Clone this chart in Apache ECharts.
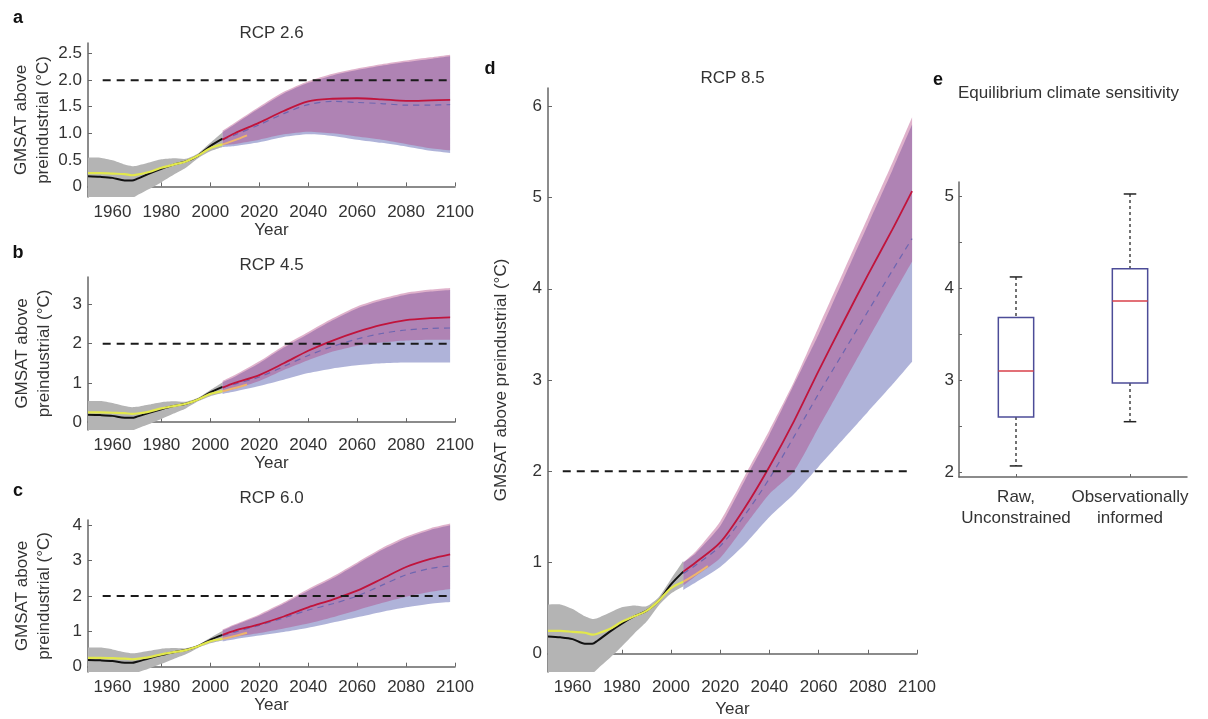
<!DOCTYPE html>
<html lang="en">
<head>
    <meta charset="UTF-8">
    <title>GMSAT projections</title>
    <style>
        html, body { margin: 0; padding: 0; background: #fff; }
    </style>
</head>
<body>
<div id="main" style="width: 1208px;height: 719px;"></div>
<script src="https://cdn.jsdelivr.net/npm/echarts@6/dist/echarts.min.js"></script>
<script>
    // historical model ensemble (same in every panel)
    const histYears = [1950, 1955, 1960, 1965, 1968, 1970, 1975, 1980, 1985, 1990, 1995, 2000, 2005];
    const histMean  = [0.19, 0.18, 0.16, 0.11, 0.11, 0.14, 0.24, 0.33, 0.41, 0.47, 0.58, 0.76, 0.90];
    const histLow   = [-0.35, -0.35, -0.33, -0.28, -0.22, -0.17, -0.05, 0.08, 0.22, 0.35, 0.53, 0.66, 0.74];
    const histHigh  = [0.54, 0.54, 0.49, 0.41, 0.38, 0.39, 0.45, 0.51, 0.53, 0.52, 0.62, 0.82, 1.02];

    // observations
    const obsYears = [1950, 1955, 1960, 1965, 1968, 1970, 1975, 1980, 1985, 1990, 1995, 2000, 2005, 2010, 2015];
    const obsVals  = [0.25, 0.25, 0.24, 0.23, 0.21, 0.22, 0.27, 0.35, 0.41, 0.47, 0.58, 0.72, 0.79, 0.87, 0.96];

    // projections
    const projYears = [2005, 2010, 2020, 2030, 2040, 2050, 2060, 2070, 2080, 2090, 2098];

    const rcp26 = {
        rawMean: [0.88, 0.97, 1.16, 1.37, 1.54, 1.60, 1.58, 1.56, 1.53, 1.53, 1.54],
        rawLow:  [0.74, 0.76, 0.83, 0.93, 0.98, 0.95, 0.88, 0.82, 0.75, 0.67, 0.63],
        rawHigh: [1.02, 1.17, 1.47, 1.75, 1.95, 2.09, 2.19, 2.27, 2.34, 2.40, 2.45],
        infMean: [0.88, 1.00, 1.20, 1.42, 1.60, 1.65, 1.66, 1.64, 1.61, 1.62, 1.63],
        infLow:  [0.78, 0.80, 0.88, 0.98, 1.03, 1.00, 0.94, 0.88, 0.80, 0.72, 0.68],
        infHigh: [1.05, 1.20, 1.50, 1.78, 1.98, 2.12, 2.22, 2.30, 2.37, 2.43, 2.48]
    };
    const rcp45 = {
        rawMean: [0.88, 0.97, 1.15, 1.42, 1.70, 1.93, 2.12, 2.26, 2.35, 2.39, 2.40],
        rawLow:  [0.72, 0.78, 0.92, 1.08, 1.25, 1.37, 1.45, 1.50, 1.52, 1.52, 1.52],
        rawHigh: [1.02, 1.16, 1.50, 1.90, 2.25, 2.60, 2.90, 3.10, 3.25, 3.33, 3.37],
        infMean: [0.88, 1.00, 1.20, 1.50, 1.82, 2.08, 2.30, 2.48, 2.60, 2.65, 2.67],
        infLow:  [0.78, 0.85, 1.05, 1.33, 1.58, 1.80, 1.95, 2.03, 2.08, 2.10, 2.10],
        infHigh: [1.05, 1.20, 1.55, 1.95, 2.30, 2.65, 2.95, 3.15, 3.30, 3.38, 3.42]
    };
    const rcp60 = {
        rawMean: [0.88, 0.98, 1.17, 1.38, 1.60, 1.78, 2.00, 2.30, 2.60, 2.78, 2.85],
        rawLow:  [0.72, 0.78, 0.88, 0.98, 1.10, 1.25, 1.40, 1.55, 1.68, 1.78, 1.83],
        rawHigh: [1.02, 1.17, 1.44, 1.78, 2.15, 2.50, 2.90, 3.30, 3.63, 3.87, 4.00],
        infMean: [0.90, 1.02, 1.20, 1.42, 1.68, 1.90, 2.15, 2.48, 2.82, 3.05, 3.18],
        infLow:  [0.78, 0.84, 0.95, 1.08, 1.22, 1.40, 1.60, 1.80, 1.98, 2.12, 2.20],
        infHigh: [1.05, 1.20, 1.48, 1.82, 2.20, 2.55, 2.95, 3.35, 3.68, 3.92, 4.05]
    };
    const rcp85 = {
        rawMean: [0.88, 0.97, 1.18, 1.52, 1.92, 2.38, 2.85, 3.30, 3.75, 4.20, 4.55],
        rawLow:  [0.70, 0.78, 0.95, 1.20, 1.50, 1.75, 2.05, 2.35, 2.65, 2.95, 3.20],
        rawHigh: [1.00, 1.10, 1.40, 1.90, 2.40, 2.95, 3.50, 4.10, 4.70, 5.30, 5.80],
        infMean: [0.90, 1.00, 1.22, 1.60, 2.05, 2.55, 3.10, 3.63, 4.15, 4.65, 5.07],
        infLow:  [0.75, 0.85, 1.05, 1.40, 1.75, 2.00, 2.48, 2.96, 3.44, 3.92, 4.30],
        infHigh: [1.00, 1.12, 1.45, 1.95, 2.45, 2.98, 3.58, 4.18, 4.78, 5.38, 5.88]
    };

    // 2 degree threshold
    const thresholdValue = 2;
    const thresholdSpan = [1956, 2098];

    // panel e: equilibrium climate sensitivity
    const ecsCategories = ['Raw,\nUnconstrained', 'Observationally\ninformed'];
    const ecsMin    = [2.07, 2.55];
    const ecsQ1     = [2.60, 2.97];
    const ecsMedian = [3.10, 3.86];
    const ecsQ3     = [3.68, 4.21];
    const ecsMax    = [4.12, 5.02];

    const yearTicks = [1960, 1980, 2000, 2020, 2040, 2060, 2080, 2100];

    const FONT = 'Liberation Sans, Arial, sans-serif';
    const TXT = '#333';
    const AXIS = '#666';

    var myChart = echarts.init(document.getElementById('main'));

    const panels = [
        {letter: 'a', title: 'RCP 2.6', data: rcp26, grid: {left: 88, top: 43, width: 367, height: 154},
            min: -0.2, max: 2.7, ticks: [0, 0.5, 1, 1.5, 2, 2.5], dec: true,
            name: 'GMSAT above\npreindustrial (°C)', nameGap: 33, letterPos: [18, 18], titleY: 33},
        {letter: 'b', title: 'RCP 4.5', data: rcp45, grid: {left: 88, top: 277, width: 367, height: 153},
            min: -0.2, max: 3.7, ticks: [0, 1, 2, 3],
            name: 'GMSAT above\npreindustrial (°C)', nameGap: 33, letterPos: [18, 253], titleY: 265},
        {letter: 'c', title: 'RCP 6.0', data: rcp60, grid: {left: 88, top: 520, width: 367, height: 152},
            min: -0.15, max: 4.15, ticks: [0, 1, 2, 3, 4],
            name: 'GMSAT above\npreindustrial (°C)', nameGap: 33, letterPos: [18, 491], titleY: 498},
        {letter: 'd', title: 'RCP 8.5', data: rcp85, grid: {left: 548, top: 88, width: 369, height: 584},
            min: -0.2, max: 6.2, ticks: [0, 1, 2, 3, 4, 5, 6],
            name: 'GMSAT above preindustrial (°C)', nameGap: 36, letterPos: [490, 69], titleY: 78}
    ];

    const pairs = (xs, ys) => xs.map((x, i) => [x, ys[i]]);

    // shaded spread between low and high, drawn as one polygon through the axis scales
    function band(idx, xs, low, high, color, opacity) {
        return {
            type: 'custom', xAxisIndex: idx, yAxisIndex: idx, silent: true, clip: true,
            encode: {x: 0, y: [1, 2]},
            data: xs.map((x, i) => [x, low[i], high[i]]),
            renderItem: function (params, api) {
                if (params.dataIndex !== 0) return null;
                const top = xs.map((x, i) => api.coord([x, high[i]]));
                const bot = xs.map((x, i) => api.coord([x, low[i]])).reverse();
                // doubled end points keep the vertical ends square when smoothing
                const pts = [top[0]].concat(top, [top[top.length - 1], bot[0]], bot, [bot[bot.length - 1]]);
                const cs = params.coordSys;
                return {
                    type: 'group',
                    clipPath: {type: 'rect', shape: {x: cs.x, y: cs.y, width: cs.width, height: cs.height}},
                    children: [{
                        type: 'polygon',
                        shape: {points: pts, smooth: 0.2},
                        style: {fill: color, opacity: opacity}
                    }]
                };
            }
        };
    }

    function line(idx, data, color, width, type) {
        return {
            type: 'line', xAxisIndex: idx, yAxisIndex: idx, symbol: 'none', smooth: 0.3, silent: true,
            data: data, lineStyle: {color: color, width: width, type: type || 'solid'}
        };
    }

    const grids = [], xAxes = [], yAxes = [], series = [], graphics = [];

    panels.forEach((p, i) => {
        grids.push(Object.assign({outerBoundsMode: 'none', containLabel: false}, p.grid));
        xAxes.push({
            type: 'value', gridIndex: i, min: 1950, max: 2100,
            name: 'Year', nameLocation: 'middle', nameGap: 24,
            nameTextStyle: {fontSize: 17, color: TXT, fontFamily: FONT},
            axisLine: {show: true, lineStyle: {color: AXIS, width: 1.5}},
            axisTick: {show: true, inside: true, length: 4, customValues: yearTicks, lineStyle: {color: AXIS}},
            axisLabel: {fontSize: 17, color: TXT, fontFamily: FONT, margin: 7, customValues: yearTicks,
                formatter: v => String(v)},
            splitLine: {show: false}
        });
        yAxes.push({
            type: 'value', gridIndex: i, min: p.min, max: p.max,
            name: p.name, nameLocation: 'middle', nameRotate: 90, nameGap: p.nameGap,
            nameTextStyle: {fontSize: 17, color: TXT, fontFamily: FONT, lineHeight: 22},
            axisLine: {show: true, lineStyle: {color: AXIS, width: 1.5}},
            axisTick: {show: true, inside: true, length: 4, customValues: p.ticks, lineStyle: {color: AXIS}},
            axisLabel: {
                fontSize: 17, color: TXT, fontFamily: FONT, margin: 6, customValues: p.ticks,
                formatter: v => (p.dec && v !== 0) ? v.toFixed(1) : String(v)
            },
            splitLine: {show: false}
        });

        const d = p.data;
        series.push(band(i, histYears, histLow, histHigh, '#b4b4b4', 1));
        series.push(line(i, pairs(histYears, histMean), '#111', 2));
        series.push(line(i, pairs(obsYears, obsVals).filter(v => v[0] <= 2005), '#e2e84c', 2.2));
        series.push(band(i, projYears, d.rawLow, d.rawHigh, '#7a80c0', 0.6));
        series.push(line(i, pairs(obsYears, obsVals).filter(v => v[0] >= 2005), '#eeb46c', 2));
        series.push(band(i, projYears, d.infLow, d.infHigh, '#b03c7c', 0.4));
        series.push(line(i, pairs(projYears, d.rawMean), '#6e66b0', 1.2, [6, 5]));
        series.push(line(i, pairs(projYears, d.infMean), '#c0143c', 1.8));
        series.push({
            type: 'line', xAxisIndex: i, yAxisIndex: i, symbol: 'none', silent: true,
            data: thresholdSpan.map(x => [x, thresholdValue]),
            lineStyle: {color: '#1a1a1a', width: 2, type: [8, 6]}
        });

        graphics.push({type: 'text', x: p.letterPos[0], y: p.letterPos[1],
            style: {text: p.letter, font: 'bold 18px ' + FONT, fill: '#111', align: 'center', verticalAlign: 'middle'}});
        graphics.push({type: 'text', x: p.grid.left + p.grid.width / 2, y: p.titleY,
            style: {text: p.title, font: '17px ' + FONT, fill: TXT, align: 'center', verticalAlign: 'middle'}});
    });

    // panel e
    grids.push({left: 959, top: 182, width: 228, height: 295, outerBoundsMode: 'none', containLabel: false});
    xAxes.push({
        type: 'category', gridIndex: 4, data: ecsCategories, boundaryGap: true,
        axisLine: {show: true, lineStyle: {color: AXIS, width: 1.5}},
        axisTick: {show: true, inside: true, length: 3, alignWithLabel: true, interval: 0, lineStyle: {color: AXIS}},
        axisLabel: {fontSize: 17, color: TXT, fontFamily: FONT, margin: 10, lineHeight: 21, interval: 0},
        splitLine: {show: false}
    });
    yAxes.push({
        type: 'value', gridIndex: 4, min: 1.95, max: 5.15,
        axisLine: {show: true, lineStyle: {color: AXIS, width: 1.5}},
        axisTick: {show: true, inside: true, length: 3, customValues: [2, 2.5, 3, 3.5, 4, 4.5, 5], lineStyle: {color: AXIS}},
        axisLabel: {fontSize: 17, color: TXT, fontFamily: FONT, margin: 5, customValues: [2, 3, 4, 5]},
        splitLine: {show: false}
    });
    series.push({
        type: 'custom', xAxisIndex: 4, yAxisIndex: 4, silent: true,
        encode: {x: 0, y: [1, 2, 3, 4, 5]},
        data: ecsCategories.map((c, i) => [i, ecsMin[i], ecsQ1[i], ecsMedian[i], ecsQ3[i], ecsMax[i]]),
        renderItem: function (params, api) {
            const idx = api.value(0);
            const pMin = api.coord([idx, api.value(1)]);
            const pQ1 = api.coord([idx, api.value(2)]);
            const pMed = api.coord([idx, api.value(3)]);
            const pQ3 = api.coord([idx, api.value(4)]);
            const pMax = api.coord([idx, api.value(5)]);
            const bandW = api.size([1, 0])[0];
            const bw = bandW * 0.31, cw = bandW * 0.11;
            const cx = pMed[0];
            const whisker = {stroke: '#444', lineWidth: 1.5, lineDash: [3, 3]};
            const solid = (c) => ({stroke: c, lineWidth: 1.5});
            return {
                type: 'group', children: [
                    {type: 'line', shape: {x1: cx, y1: pMax[1], x2: cx, y2: pQ3[1]}, style: whisker},
                    {type: 'line', shape: {x1: cx, y1: pQ1[1], x2: cx, y2: pMin[1]}, style: whisker},
                    {type: 'line', shape: {x1: cx - cw / 2, y1: pMax[1], x2: cx + cw / 2, y2: pMax[1]}, style: solid('#222')},
                    {type: 'line', shape: {x1: cx - cw / 2, y1: pMin[1], x2: cx + cw / 2, y2: pMin[1]}, style: solid('#222')},
                    {type: 'rect', shape: {x: cx - bw / 2, y: pQ3[1], width: bw, height: pQ1[1] - pQ3[1]},
                        style: {stroke: '#4c4c98', lineWidth: 1.5, fill: 'none'}},
                    {type: 'line', shape: {x1: cx - bw / 2, y1: pMed[1], x2: cx + bw / 2, y2: pMed[1]}, style: solid('#d8404a')}
                ]
            };
        }
    });
    graphics.push({type: 'text', x: 938, y: 80,
        style: {text: 'e', font: 'bold 18px ' + FONT, fill: '#111', align: 'center', verticalAlign: 'middle'}});
    graphics.push({type: 'text', x: 958, y: 93,
        style: {text: 'Equilibrium climate sensitivity', font: '17px ' + FONT, fill: TXT, align: 'left', verticalAlign: 'middle'}});

    option = {
        animation: false,
        backgroundColor: '#fff',
        grid: grids,
        xAxis: xAxes,
        yAxis: yAxes,
        series: series,
        graphic: graphics
    };
    myChart.setOption(option);
</script>
</body>
</html>
